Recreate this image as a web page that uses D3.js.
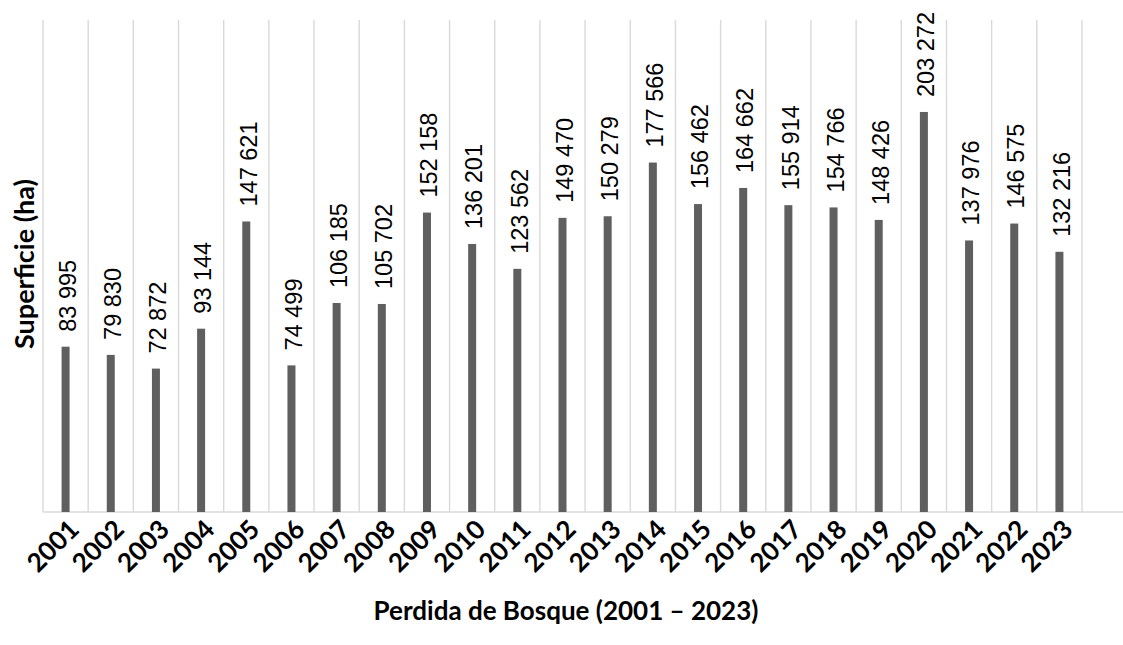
<!DOCTYPE html>
<html lang="es">
<head>
    <meta charset="UTF-8">
    <title>Perdida de Bosque</title>
    <script src="https://d3js.org/d3.v7.min.js"></script>
    <style>
        body { margin: 0; background: #fff; }
        .value-label { font-family: "Liberation Sans", Arial, sans-serif; font-size: 23.5px; fill: #000; }
        .tick-label { font-family: Lato, "Open Sans", sans-serif; font-size: 26px; font-weight: bold; fill: #000; }
        .axis-title { font-family: Lato, "Open Sans", sans-serif; font-size: 26px; font-weight: bold; fill: #000; }
    </style>
</head>
<body>
    <script>
        var w = 1123;
        var h = 645;

        var years = ["2001", "2002", "2003", "2004", "2005", "2006", "2007", "2008", "2009", "2010",
            "2011", "2012", "2013", "2014", "2015", "2016", "2017", "2018", "2019", "2020",
            "2021", "2022", "2023"];
        var perdida = [83995, 79830, 72872, 93144, 147621, 74499, 106185, 105702, 152158, 136201,
            123562, 149470, 150279, 177566, 156462, 164662, 155914, 154766, 148426, 203272,
            137976, 146575, 132216];
        var labels = ["83 995", "79 830", "72 872", "93 144", "147 621", "74 499", "106 185", "105 702",
            "152 158", "136 201", "123 562", "149 470", "150 279", "177 566", "156 462", "164 662",
            "155 914", "154 766", "148 426", "203 272", "137 976", "146 575", "132 216"];

        var plotLeft = 43, plotRight = 1082, plotTop = 20, plotBottom = 512;

        var svg = d3.select("body")
            .append("svg")
            .attr("width", w)
            .attr("height", h);

        var xScale = d3.scaleBand()
            .domain(years)
            .range([plotLeft, plotRight]);

        var yScale = d3.scaleLinear()
            .domain([0, 250000])
            .range([plotBottom, plotTop]);

        // vertical gridlines between the categories
        var edges = d3.range(years.length + 1).map(function (i) { return plotLeft + i * xScale.step(); });
        svg.append("g")
            .selectAll("line")
            .data(edges)
            .enter()
            .append("line")
            .attr("x1", function (d) { return d; })
            .attr("x2", function (d) { return d; })
            .attr("y1", plotTop)
            .attr("y2", plotBottom)
            .style("stroke", "#d9d9d9")
            .style("stroke-width", 1.4);

        // axis line
        svg.append("line")
            .attr("x1", plotLeft)
            .attr("x2", w)
            .attr("y1", plotBottom)
            .attr("y2", plotBottom)
            .style("stroke", "#d9d9d9")
            .style("stroke-width", 1.6);

        var bw = 8;
        svg.selectAll("rect.bar")
            .data(perdida)
            .enter()
            .append("rect")
            .attr("class", "bar")
            .attr("x", function (d, i) { return xScale(years[i]) + xScale.bandwidth() / 2 - bw / 2; })
            .attr("y", function (d) { return yScale(d); })
            .attr("width", bw)
            .attr("height", function (d) { return plotBottom - yScale(d); })
            .style("fill", "#5f5f5f");

        svg.selectAll("text.value-label")
            .data(perdida)
            .enter()
            .append("text")
            .attr("class", "value-label")
            .attr("transform", function (d, i) {
                var x = xScale(years[i]) + xScale.bandwidth() / 2 + 2;
                return "translate(" + x + "," + (yScale(d) - 15) + ") rotate(-90)";
            })
            .attr("dy", "0.35em")
            .text(function (d, i) { return labels[i]; });

        svg.selectAll("text.tick-label")
            .data(years)
            .enter()
            .append("text")
            .attr("class", "tick-label")
            .attr("text-anchor", "end")
            .attr("transform", function (d) {
                var x = xScale(d) + xScale.bandwidth() / 2 + 15;
                return "translate(" + x + ",531) rotate(-45)";
            })
            .text(function (d) { return d; });

        svg.append("text")
            .attr("class", "axis-title")
            .attr("text-anchor", "middle")
            .attr("x", 566)
            .attr("y", 620)
            .text("Perdida de Bosque (2001 – 2023)");

        svg.append("text")
            .attr("class", "axis-title")
            .attr("text-anchor", "middle")
            .style("font-size", "27px")
            .attr("transform", "translate(34,264) rotate(-90)")
            .text("Superficie (ha)");
    </script>
</body>
</html>
